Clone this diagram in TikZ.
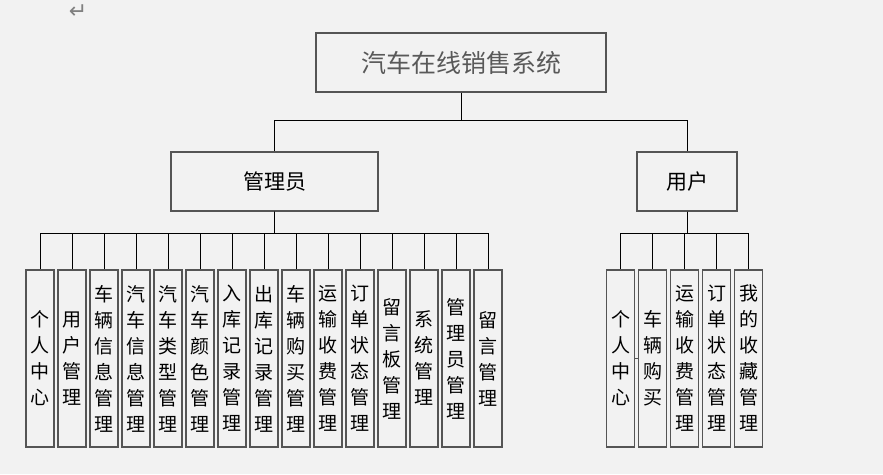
\documentclass[tikz,border=0pt]{standalone}
\usepackage{fontspec}
\setmainfont{Noto Sans CJK SC}
\newfontfamily\symfont{DejaVu Sans}
\usetikzlibrary{positioning}
\definecolor{paper}{RGB}{242,242,242}
\definecolor{frame}{RGB}{85,85,85}
\tikzset{
  root/.style={draw=frame,line width=1.2pt,minimum width=290pt,minimum height=59pt,
    font=\fontsize{25}{27}\selectfont,text=black!65},
  role/.style={draw=frame,line width=1.2pt,minimum height=59pt,font=\fontsize{21}{23}\selectfont},
  leaf/.style={draw=frame,line width=1.2pt,minimum width=28pt,minimum height=177pt,
    inner sep=0pt,text width=28pt,align=center,font=\fontsize{19}{26}\selectfont},
  link/.style={draw=black,line width=1pt},
}
\begin{document}
\begin{tikzpicture}[x=1pt,y=-1pt]
  \fill[paper] (0,0) rectangle (883,474);
  \useasboundingbox (0,0) rectangle (883,474);
  \node[text=black!50,font=\symfont\fontsize{22}{22}\selectfont] (mark) at (78,12) {↵};
  % top levels
  \node[root] (sys) at (461,62.5) {汽车在线销售系统};
  \node[role,minimum width=207pt] (admin) at (274.5,181.5) {管理员};
  \node[role,minimum width=100pt] (user) at (687,181.5) {用户};
  \coordinate (j0) at (461,120);
  \draw[link] (sys.south) -- (j0) -| (admin.north);
  \draw[link] (j0) -| (user.north);
  % admin modules
  \foreach \i/\t in {0/{个\\人\\中\\心},1/{用\\户\\管\\理},2/{车\\辆\\信\\息\\管\\理},
    3/{汽\\车\\信\\息\\管\\理},4/{汽\\车\\类\\型\\管\\理},5/{汽\\车\\颜\\色\\管\\理},
    6/{入\\库\\记\\录\\管\\理},7/{出\\库\\记\\录\\管\\理},8/{车\\辆\\购\\买\\管\\理},
    9/{运\\输\\收\\费\\管\\理},10/{订\\单\\状\\态\\管\\理},11/{留\\言\\板\\管\\理},
    12/{系\\统\\管\\理},13/{管\\理\\员\\管\\理},14/{留\\言\\管\\理}}{
    \node[leaf] (a\i) at (40+32*\i,358.5) {\t};
    \draw[link] (admin.south) -- (274.5,233) -| (a\i.north);
  }
  % user modules
  \foreach \i/\t in {0/{个\\人\\中\\心},1/{车\\辆\\购\\买},2/{运\\输\\收\\费\\管\\理},
    3/{订\\单\\状\\态\\管\\理},4/{我\\的\\收\\藏\\管\\理}}{
    \node[leaf] (u\i) at (620.5+32*\i,358.5) {\t};
    \draw[link] (user.south) -- (687,233) -| (u\i.north);
  }
  \draw[frame,line width=1.2pt] (u0.east) -- (u1.west);
\end{tikzpicture}
\end{document}
